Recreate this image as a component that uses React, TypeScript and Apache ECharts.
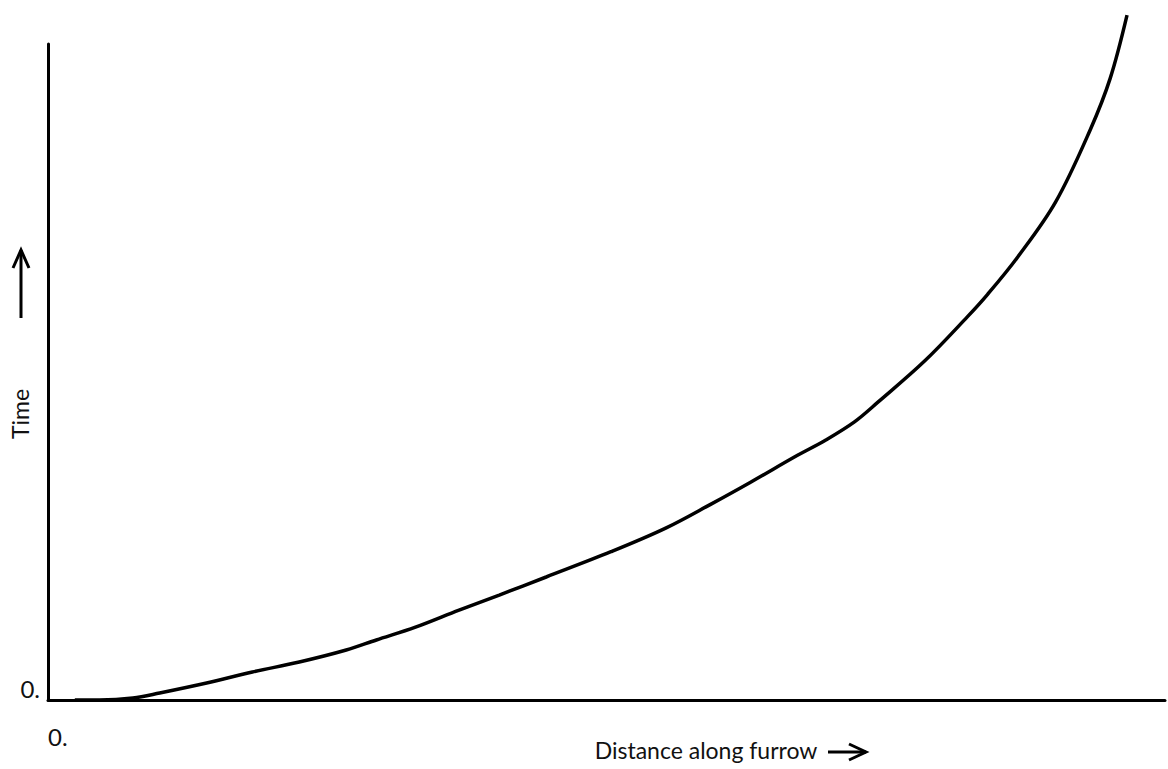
import React, { useEffect, useRef } from "react";
import * as echarts from "echarts";

// Distance along furrow (arbitrary units, 0–100 across the axis)
const distance = [2.4, 4.6, 7.6, 10.0, 14.2, 18.3, 22.5, 26.7, 29.4, 32.9, 36.8, 40.4, 44.6, 50.4, 55.3, 59.4, 62.9, 67.1, 69.6, 72.2, 74.3, 78.5, 82.3, 84.1, 86.8, 90.2, 93.3, 95.1, 96.6];
// Time (arbitrary units, 0–100 up to the top of the axis)
const time = [0, 0, 0.3, 1.07, 2.59, 4.27, 5.79, 7.62, 9.15, 11.1, 13.7, 16.0, 18.75, 22.6, 26.2, 29.9, 33.2, 37.3, 39.6, 42.4, 45.4, 51.7, 58.4, 61.8, 67.5, 75.9, 86.9, 94.8, 104.4];

const xTickLabels = ["0."];
const yTickLabels = ["0."];
const xAxisTitle = "Distance along furrow";
const yAxisTitle = "Time";

const FONT = "Lato, 'Open Sans', sans-serif";

export default function App() {
  const ref = useRef<HTMLDivElement>(null);
  useEffect(() => {
    document.body.style.margin = "0";
    const chart = echarts.init(ref.current!, null, { renderer: "svg" });
    const points = distance.map((d, i) => [d, time[i]]);
    chart.setOption({
      animation: false,
      backgroundColor: "#ffffff",
      grid: { left: 48, right: 0, top: 44, bottom: 69, containLabel: false },
      xAxis: {
        type: "value",
        min: 0,
        max: 100,
        interval: 100,
        axisLine: { show: true, lineStyle: { color: "#000", width: 3 } },
        axisTick: { show: false },
        splitLine: { show: false },
        axisLabel: {
          show: true,
          margin: 24,
          align: "left",
          fontSize: 24,
          color: "#111",
          fontFamily: FONT,
          formatter: (v: number) => (v === 0 ? xTickLabels[0] : ""),
        },
      },
      yAxis: {
        type: "value",
        min: 0,
        max: 100,
        interval: 100,
        axisLine: { show: true, lineStyle: { color: "#000", width: 3 } },
        axisTick: { show: false },
        splitLine: { show: false },
        axisLabel: {
          show: true,
          margin: 8,
          fontSize: 24,
          color: "#111",
          verticalAlign: "bottom",
          fontFamily: FONT,
          formatter: (v: number) => (v === 0 ? yTickLabels[0] : ""),
        },
      },
      series: [
        {
          type: "line",
          data: points,
          smooth: 0.35,
          symbol: "none",
          clip: false,
          lineStyle: { color: "#000", width: 3.5 },
        },
      ],
      graphic: [
        {
          type: "text",
          x: 706,
          y: 750,
          style: {
            text: xAxisTitle,
            fontSize: 23,
            fontFamily: FONT,
            fill: "#111",
            align: "center",
            verticalAlign: "middle",
          },
        },
        {
          type: "line",
          shape: { x1: 828, y1: 752, x2: 866, y2: 752 },
          style: { stroke: "#000", lineWidth: 3 },
        },
        {
          type: "polyline",
          shape: { points: [[849, 744], [866, 752], [849, 760]] },
          style: { stroke: "#000", lineWidth: 3, fill: null },
        },
        {
          type: "text",
          x: 20,
          y: 414,
          rotation: Math.PI / 2,
          style: {
            text: yAxisTitle,
            fontSize: 23,
            fontFamily: FONT,
            fill: "#111",
            align: "center",
            verticalAlign: "middle",
          },
        },
        {
          type: "line",
          shape: { x1: 21, y1: 318, x2: 21, y2: 250 },
          style: { stroke: "#000", lineWidth: 3 },
        },
        {
          type: "polyline",
          shape: { points: [[13, 268], [21, 250], [29, 268]] },
          style: { stroke: "#000", lineWidth: 3, fill: null },
        },
      ],
    });
    return () => chart.dispose();
  }, []);
  return <div ref={ref} style={{ width: 1168, height: 769 }} />;
}
